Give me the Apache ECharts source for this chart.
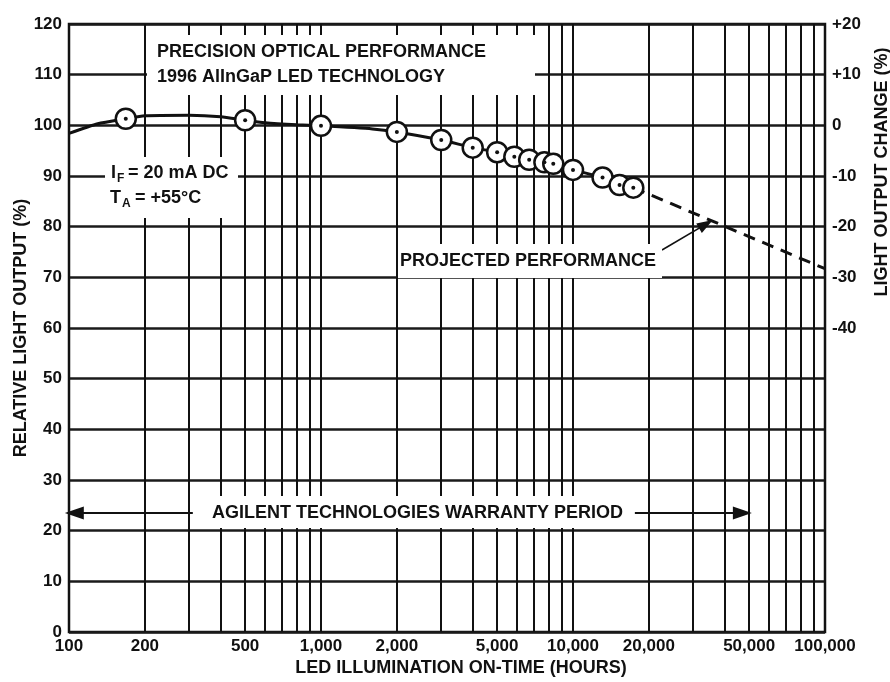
<!DOCTYPE html>
<html><head><meta charset="utf-8">
<script src="https://cdn.jsdelivr.net/npm/echarts@6/dist/echarts.min.js"></script>
<style>html,body{margin:0;padding:0;background:#fff}#c{width:890px;height:682px}</style>
</head><body><div id="c"></div>
<script>
// ---- data ----
const xTickLabels = [100, 200, 500, 1000, 2000, 5000, 10000, 20000, 50000, 100000];
const xGridValues = [100, 200, 300, 400, 500, 600, 700, 800, 900,
  1000, 2000, 3000, 4000, 5000, 6000, 7000, 8000, 9000,
  10000, 20000, 30000, 40000, 50000, 60000, 70000, 80000, 90000, 100000];
const rightTickLabels = ['+20', '+10', '0', '-10', '-20', '-30', '-40'];
const curveHours  = [100, 130, 168, 200, 300, 400, 500, 600, 800, 1000, 1600, 2000, 3000, 4000, 5000, 5850, 6700, 7700, 8350, 10000, 13100, 15300, 17350];
const curveValues = [98.4, 100.3, 101.3, 101.9, 102.0, 101.7, 101.0, 100.5, 100.1, 99.9, 99.3, 98.7, 97.1, 95.6, 94.7, 93.8, 93.2, 92.7, 92.4, 91.2, 89.7, 88.2, 87.7];
const measuredHours  = [168, 500, 1000, 2000, 3000, 4000, 5000, 5850, 6700, 7700, 8350, 10000, 13100, 15300, 17350];
const measuredValues = [101.3, 101.0, 99.9, 98.7, 97.1, 95.6, 94.7, 93.8, 93.2, 92.7, 92.4, 91.2, 89.7, 88.2, 87.7];
const projectedHours  = [17350, 100000];
const projectedValues = [87.7, 71.7];
const warrantyLeft  = [[310, 23.5], [105, 23.5]];
const warrantyRight = [[17600, 23.5], [47000, 23.5]];
const projectedArrow = [[22550, 75.4], [33700, 80.5]];

const zip = (a, b) => a.map((v, i) => [v, b[i]]);
const INK = '#111';
const FONT = 'Liberation Sans, Arial, sans-serif';
const lbl = { color: INK, fontFamily: FONT, fontWeight: 'bold', fontSize: 17 };
const fmtNum = v => Math.round(v).toString().replace(/\B(?=(\d{3})+(?!\d))/g, ',');

const txt = (x, y, text, size, extra) => Object.assign({
  type: 'text', x: x, y: y, z: 60,
  style: { text: text, fill: INK, font: 'bold ' + (size || 18) + 'px ' + FONT, verticalAlign: 'middle', align: 'left' }
}, extra || {});
const box = (x, y, w, h) => ({ type: 'rect', z: 55, shape: { x: x, y: y, width: w, height: h }, style: { fill: '#fff' } });

const chart = echarts.init(document.getElementById('c'), null, { renderer: 'canvas' });
chart.setOption({
  animation: false,
  backgroundColor: '#fff',
  grid: { left: 69, right: 65, top: 24, bottom: 50, containLabel: false, outerBoundsMode: 'none',
    show: true, borderColor: INK, borderWidth: 2.5, backgroundColor: 'transparent' },
  xAxis: {
    type: 'log', logBase: 10, min: 100, max: 100000,
    name: 'LED ILLUMINATION ON-TIME (HOURS)', nameLocation: 'middle', nameGap: 27, nameMoveOverlap: false,
    nameTextStyle: { color: INK, fontFamily: FONT, fontWeight: 'bold', fontSize: 18, padding: [0, 0, 0, 28] },
    axisLine: { show: false },
    axisTick: { show: false, customValues: xGridValues },
    axisLabel: Object.assign({ margin: 6, customValues: xTickLabels, formatter: fmtNum, showMinLabel: true, showMaxLabel: true, hideOverlap: false }, lbl),
    splitLine: { show: true, lineStyle: { color: INK, width: 2 } },
    minorTick: { show: false }, minorSplitLine: { show: false }
  },
  yAxis: [{
    type: 'value', min: 0, max: 120, interval: 10,
    name: 'RELATIVE LIGHT OUTPUT (%)', nameLocation: 'middle', nameGap: 39, nameMoveOverlap: false,
    nameTextStyle: { color: INK, fontFamily: FONT, fontWeight: 'bold', fontSize: 18 },
    axisLine: { show: false }, axisTick: { show: false },
    axisLabel: Object.assign({ margin: 7 }, lbl),
    splitLine: { show: true, lineStyle: { color: '#1a1a1a', width: 2.5 } }
  }, {
    type: 'value', min: -100, max: 20, interval: 10, position: 'right',
    axisLine: { show: false }, axisTick: { show: false }, splitLine: { show: false },
    axisLabel: Object.assign({
      margin: 7,
      formatter: v => { const i = Math.round((20 - v) / 10); return i >= 0 && i < rightTickLabels.length ? rightTickLabels[i] : ''; }
    }, lbl)
  }],
  series: [{
    type: 'line', name: 'measured curve', data: zip(curveHours, curveValues),
    showSymbol: false, symbol: 'none', smooth: 0.2, z: 3,
    lineStyle: { color: INK, width: 3 },
    markLine: {
      silent: true, animation: false, label: { show: false }, symbol: ['none', 'triangle'],
      lineStyle: { color: INK, width: 2, type: 'solid' },
      emphasis: { disabled: true },
      data: [
        [{ coord: warrantyLeft[0], symbol: 'none' }, { coord: warrantyLeft[1], symbol: 'triangle', symbolSize: [13, 19] }],
        [{ coord: warrantyRight[0], symbol: 'none' }, { coord: warrantyRight[1], symbol: 'triangle', symbolSize: [13, 19] }],
        [{ coord: projectedArrow[0], symbol: 'none', lineStyle: { width: 1.6 } }, { coord: projectedArrow[1], symbol: 'triangle', symbolSize: [11, 16] }]
      ]
    }
  }, {
    type: 'line', name: 'projected', data: zip(projectedHours, projectedValues),
    showSymbol: false, symbol: 'none', z: 3,
    lineStyle: { color: INK, width: 3, type: [12, 8] }
  }, {
    type: 'scatter', name: 'measured points', data: zip(measuredHours, measuredValues),
    symbol: 'circle', symbolSize: 20, z: 4,
    itemStyle: { color: '#fff', borderColor: INK, borderWidth: 2.5, opacity: 1 }
  }, {
    type: 'scatter', name: 'point centers', data: zip(measuredHours, measuredValues),
    symbol: 'circle', symbolSize: 4, z: 5,
    itemStyle: { color: INK, opacity: 1 }
  }],
  graphic: [
    box(147, 35, 388, 60),
    txt(157, 52, 'PRECISION OPTICAL PERFORMANCE'),
    txt(157, 77, '1996 AlInGaP LED TECHNOLOGY'),
    box(105, 157, 133, 61),
    txt(111, 173, 'I'), txt(117, 179, 'F', 12), txt(128, 173, '= 20 mA DC'),
    txt(110, 198, 'T'), txt(122, 204, 'A', 12), txt(135, 198, '= +55°C'),
    box(398, 244, 264, 34),
    txt(400, 261, 'PROJECTED PERFORMANCE'),
    box(203, 496, 429, 32),
    txt(212, 513, 'AGILENT TECHNOLOGIES WARRANTY PERIOD'),
    {
      type: 'text', x: 882, y: 172, rotation: Math.PI / 2, z: 60,
      style: { text: 'LIGHT OUTPUT CHANGE (%)', fill: INK, font: 'bold 18px ' + FONT, align: 'center', verticalAlign: 'middle' }
    }
  ]
});
</script></body></html>
